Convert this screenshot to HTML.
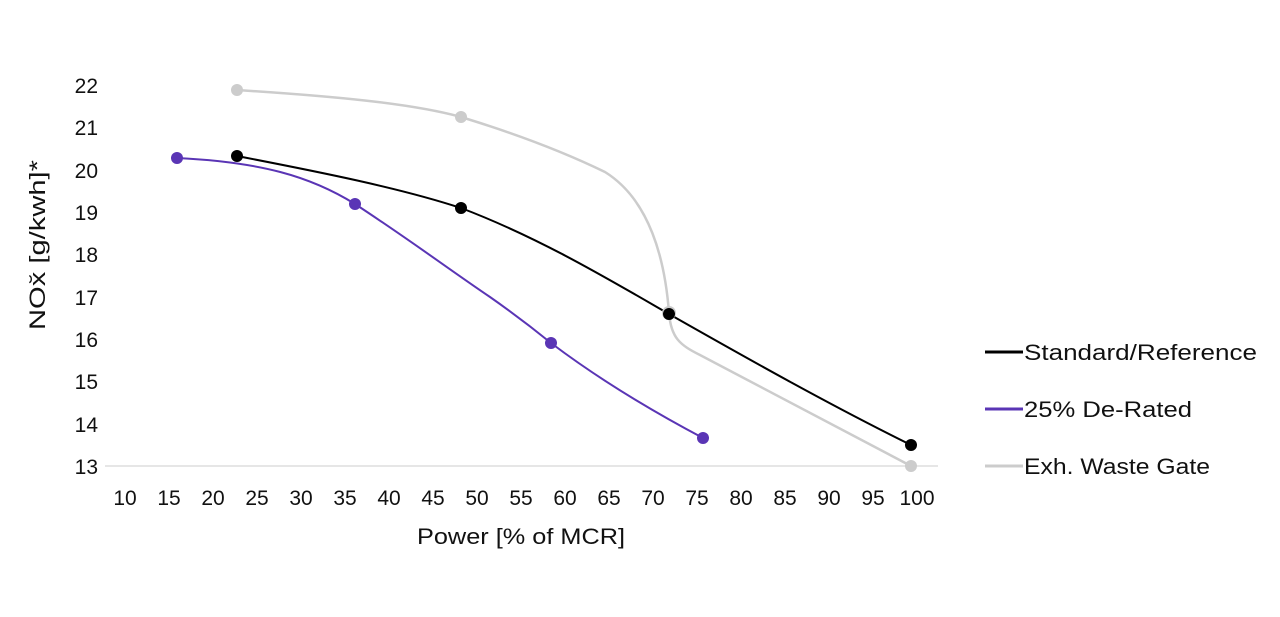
<!DOCTYPE html>
<html><head><meta charset="utf-8"><style>
body{margin:0;background:#fff;}
svg text{font-family:"Liberation Sans",sans-serif;fill:#111;}
</style></head><body>
<svg width="1280" height="612" viewBox="0 0 1280 612" xmlns="http://www.w3.org/2000/svg">
<line x1="105" y1="466" x2="938" y2="466" stroke="#dddddd" stroke-width="1.5"/>
<g font-size="21" text-anchor="end">
<text x="98" y="93">22</text><text x="98" y="135">21</text><text x="98" y="178">20</text>
<text x="98" y="220">19</text><text x="98" y="262">18</text><text x="98" y="305">17</text>
<text x="98" y="347">16</text><text x="98" y="389">15</text><text x="98" y="432">14</text>
<text x="98" y="474">13</text>
</g>
<g font-size="21" text-anchor="middle">
<text x="125" y="505">10</text><text x="169" y="505">15</text><text x="213" y="505">20</text>
<text x="257" y="505">25</text><text x="301" y="505">30</text><text x="345" y="505">35</text>
<text x="389" y="505">40</text><text x="433" y="505">45</text><text x="477" y="505">50</text>
<text x="521" y="505">55</text><text x="565" y="505">60</text><text x="609" y="505">65</text>
<text x="653" y="505">70</text><text x="697" y="505">75</text><text x="741" y="505">80</text>
<text x="785" y="505">85</text><text x="829" y="505">90</text><text x="873" y="505">95</text>
<text x="917" y="505">100</text>
</g>
<text x="417" y="544" font-size="22" textLength="208" lengthAdjust="spacingAndGlyphs">Power [% of MCR]</text>
<text transform="translate(45,330) rotate(-90)" font-size="22" textLength="170" lengthAdjust="spacingAndGlyphs">NOx̆ [g/kwh]*</text>
<!-- gray -->
<path d="M237,90 C330,96 410,103 461,117 C520,135 570,155 605,172 C650,200 665,260 669,313 C671,338 680,345 700,355 L911,466" fill="none" stroke="#cccccc" stroke-width="2.5"/>
<!-- black -->
<path d="M237,156 C320,172 400,188 461,208 C540,238 610,280 669,314 C750,360 830,405 911,445" fill="none" stroke="#000" stroke-width="2"/>
<!-- purple -->
<path d="M177,158 C260,162 310,176 355,204 C410,240 450,270 490,297 C520,318 535,330 551,343 C600,380 650,410 703,438" fill="none" stroke="#5a35b5" stroke-width="2"/>
<g fill="#cccccc"><circle cx="237" cy="90" r="6"/><circle cx="461" cy="117" r="6"/><circle cx="669" cy="313" r="7"/><circle cx="911" cy="466" r="6"/></g>
<g fill="#000"><circle cx="237" cy="156" r="6"/><circle cx="461" cy="208" r="6"/><circle cx="669" cy="314" r="6"/><circle cx="911" cy="445" r="6"/></g>
<g fill="#5a35b5"><circle cx="177" cy="158" r="6"/><circle cx="355" cy="204" r="6"/><circle cx="551" cy="343" r="6"/><circle cx="703" cy="438" r="6"/></g>
<line x1="985" y1="352" x2="1023" y2="352" stroke="#000" stroke-width="3"/>
<line x1="985" y1="409" x2="1023" y2="409" stroke="#5a35b5" stroke-width="3"/>
<line x1="985" y1="466" x2="1023" y2="466" stroke="#cccccc" stroke-width="3"/>
<g font-size="22">
<text x="1024" y="360" textLength="233" lengthAdjust="spacingAndGlyphs">Standard/Reference</text>
<text x="1024" y="417" textLength="168" lengthAdjust="spacingAndGlyphs">25% De-Rated</text>
<text x="1024" y="474" textLength="186" lengthAdjust="spacingAndGlyphs">Exh. Waste Gate</text>
</g>
</svg>
</body></html>
